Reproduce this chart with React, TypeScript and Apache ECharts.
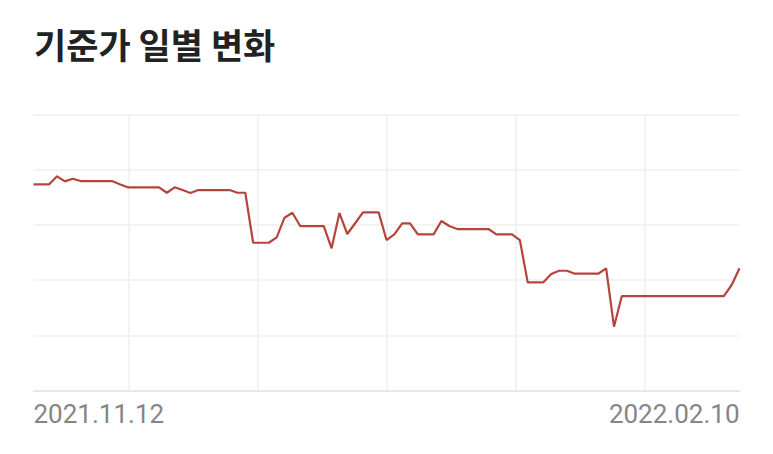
import React, { useEffect, useRef } from "react";
import * as echarts from "echarts";

const startDate = "2021.11.12";
const endDate = "2022.02.10";

// Daily NAV values (arbitrary units; gridline step = 10)
const navValues: number[] = [
  37.32, 37.32, 37.32, 38.77, 37.86, 38.33, 37.92, 37.92, 37.92, 37.92,
  37.92, 37.34, 36.78, 36.78, 36.78, 36.78, 36.78, 35.8, 36.78, 36.29,
  35.75, 36.29, 36.29, 36.29, 36.29, 36.29, 35.8, 35.8, 26.75, 26.75,
  26.75, 27.73, 31.28, 32.18, 29.77, 29.77, 29.77, 29.77, 25.74, 32.13,
  28.33, 30.28, 32.25, 32.25, 32.25, 27.24, 28.27, 30.26, 30.26, 28.27,
  28.27, 28.27, 30.68, 29.77, 29.23, 29.23, 29.23, 29.23, 29.23, 28.27,
  28.27, 28.27, 27.24, 19.58, 19.58, 19.58, 21.09, 21.68, 21.68, 21.14,
  21.14, 21.14, 21.14, 22.12, 11.55, 17.1, 17.1, 17.1, 17.1, 17.1,
  17.1, 17.1, 17.1, 17.1, 17.1, 17.1, 17.1, 17.1, 17.1, 19.1,
  22.12,
];

const titleText = "기준가 일별 변화";

function buildDates(start: string, count: number): string[] {
  const [y, m, d] = start.split(".").map(Number);
  const base = Date.UTC(y, m - 1, d);
  const out: string[] = [];
  for (let i = 0; i < count; i++) {
    const dt = new Date(base + i * 86400000);
    const mm = String(dt.getUTCMonth() + 1).padStart(2, "0");
    const dd = String(dt.getUTCDate()).padStart(2, "0");
    out.push(`${dt.getUTCFullYear()}.${mm}.${dd}`);
  }
  return out;
}

const dates = buildDates(startDate, navValues.length);

export default function App() {
  const ref = useRef<HTMLDivElement>(null);
  useEffect(() => {
    if (!ref.current) return;
    const chart = echarts.init(ref.current, undefined, { renderer: "svg" });
    const last = dates.length - 1;
    chart.setOption({
      animation: false,
      backgroundColor: "#ffffff",
      title: {
        text: titleText,
        left: 34,
        top: 26,
        padding: 0,
        textStyle: {
          fontFamily: "'Noto Sans CJK KR', sans-serif",
          fontSize: 35,
          fontWeight: "bold",
          color: "#222222",
        },
      },
      grid: { left: 33.5, right: 33.5, top: 114.3, bottom: 63.5, containLabel: false },
      xAxis: [
        {
          type: "category",
          data: dates,
          boundaryGap: false,
          axisLine: { show: true, lineStyle: { color: "#e3e3e3", width: 1.5 } },
          axisTick: { show: false },
          splitLine: { show: false },
          axisLabel: {
            interval: (idx: number) => idx === 0 || idx === last,
            showMinLabel: true,
            showMaxLabel: true,
            alignMinLabel: "left",
            alignMaxLabel: "right",
            margin: 10,
            color: "#858585",
            fontFamily: "Roboto, sans-serif",
            fontSize: 26,
          },
        },
        {
          type: "value",
          position: "top",
          min: 0.2663,
          max: 5.7314,
          minInterval: 1,
          maxInterval: 1,
          axisLine: { show: false },
          axisTick: { show: false },
          axisLabel: { show: false },
          splitLine: {
            show: true,
            showMinLine: false,
            showMaxLine: false,
            lineStyle: { color: "#efefef", width: 1.5 },
          },
        },
      ],
      yAxis: {
        type: "value",
        min: 0,
        max: 50,
        interval: 10,
        axisLine: { show: false },
        axisTick: { show: false },
        axisLabel: { show: false },
        splitLine: { show: true, lineStyle: { color: "#efefef", width: 1.5 } },
      },
      series: [
        {
          type: "line",
          xAxisIndex: 0,
          data: navValues,
          symbol: "none",
          smooth: false,
          lineStyle: { color: "#b5443f", width: 2.2 },
        },
      ],
    });
    return () => chart.dispose();
  }, []);
  return (
    <div
      ref={ref}
      style={{ position: "fixed", left: 0, top: 0, width: 773, height: 454 }}
    />
  );
}
